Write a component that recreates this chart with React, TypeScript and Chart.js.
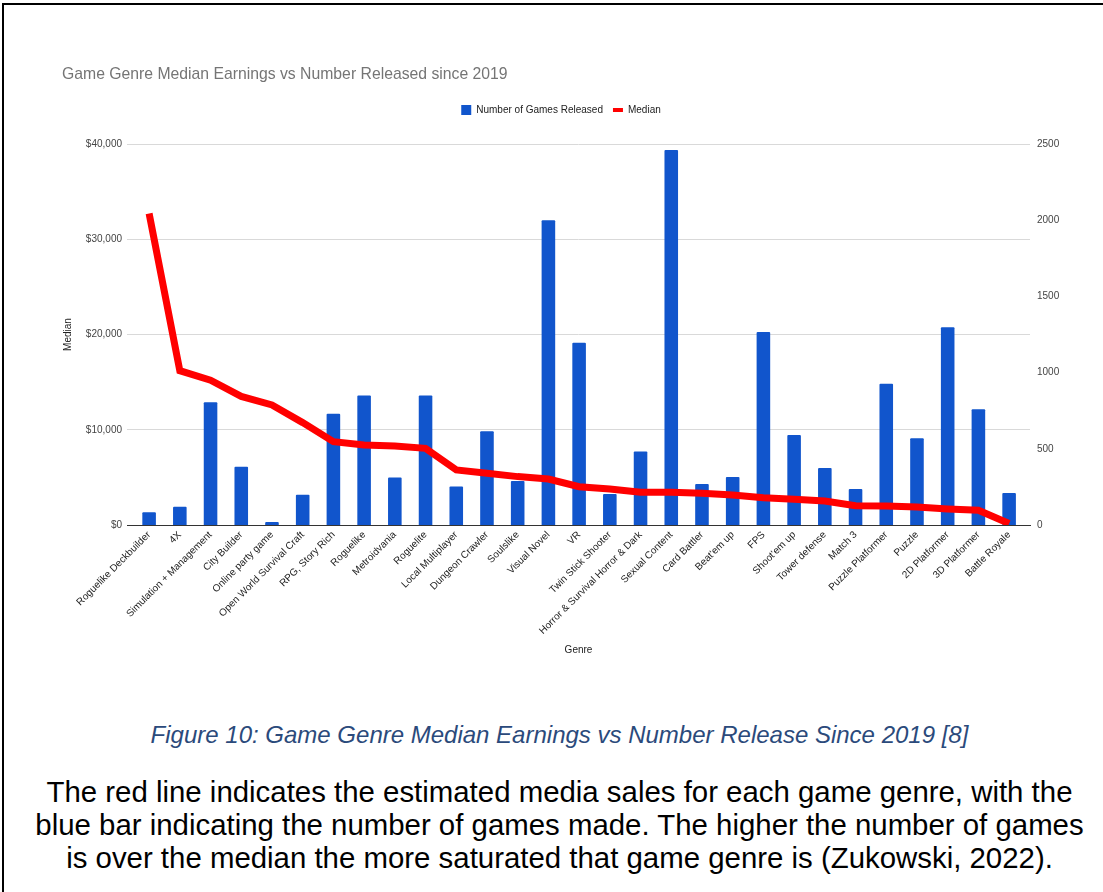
import React, { useEffect, useRef } from "react";
import { Chart, registerables } from "chart.js";

Chart.register(...registerables);

const FONT = "Arial, 'Liberation Sans', sans-serif";

const chartTitle = "Game Genre Median Earnings vs Number Released since 2019";
const seriesNames = ["Number of Games Released", "Median"];

const genres = [
  "Roguelike Deckbuilder",
  "4X",
  "Simulation + Management",
  "City Builder",
  "Online party game",
  "Open World Survival Craft",
  "RPG, Story Rich",
  "Roguelike",
  "Metroidvania",
  "Roguelite",
  "Local Multiplayer",
  "Dungeon Crawler",
  "Soulslike",
  "Visual Novel",
  "VR",
  "Twin Stick Shooter",
  "Horror & Survival Horror & Dark",
  "Sexual Content",
  "Card Battler",
  "Beat'em up",
  "FPS",
  "Shoot'em up",
  "Tower defense",
  "Match 3",
  "Puzzle Platformer",
  "Puzzle",
  "2D Platformer",
  "3D Platformer",
  "Battle Royale",
];

const gamesReleased = [
  83, 120, 805, 383, 20, 199, 730, 849, 311, 849, 252, 615, 289, 2000, 1196,
  203, 483, 2461, 269, 315, 1267, 591, 374, 236, 927, 569, 1297, 759, 210,
];

const medianEarnings = [
  32700, 16200, 15200, 13500, 12600, 10750, 8750, 8400, 8300, 8050, 5780, 5430,
  5080, 4830, 4020, 3780, 3430, 3430, 3330, 3150, 2870, 2700, 2520, 2030, 2000,
  1890, 1680, 1540, 150,
];

const leftTicks = { min: 0, max: 40000, step: 10000 };
const rightTicks = { min: 0, max: 2500, step: 500 };
// category axis drawn as a numeric index axis with a little extra room at both ends
const xRange = { min: -0.72, max: 28.68 };

const captionText =
  "Figure 10: Game Genre Median Earnings vs Number Release Since 2019 [8]";
const paragraphLines = [
  "The red line indicates the estimated media sales for each game genre, with the",
  "blue bar indicating the number of games made. The higher the number of games",
  "is over the median the more saturated that game genre is (Zukowski, 2022).",
];

const BLUE = "#1155cc";
const RED = "#ff0000";

const legendSpacer = {
  id: "legendSpacer",
  beforeInit(chart: any) {
    const leg = chart.legend;
    if (!leg) return;
    const orig = leg.fit;
    leg.fit = function () {
      orig.call(this);
      this.height += 19;
    };
  },
};

export default function App() {
  const canvasRef = useRef<HTMLCanvasElement | null>(null);

  useEffect(() => {
    document.body.style.overflow = "hidden";
    if (!canvasRef.current) return;
    Chart.defaults.font.family = FONT;
    const barPoints = gamesReleased.map((v, i) => ({ x: i, y: v }));
    const linePoints = medianEarnings.map((v, i) => ({ x: i, y: v }));
    const chart = new Chart(canvasRef.current, {
      type: "bar",
      data: {
        datasets: [
          {
            type: "bar",
            label: seriesNames[0],
            data: barPoints,
            backgroundColor: BLUE,
            borderWidth: 0,
            borderRadius: 1,
            yAxisID: "y1",
            barPercentage: 0.65,
            categoryPercentage: 1,
            order: 2,
          } as any,
          {
            type: "line",
            label: seriesNames[1],
            data: linePoints,
            borderColor: RED,
            backgroundColor: RED,
            borderWidth: 7,
            pointRadius: 0,
            tension: 0,
            fill: false,
            yAxisID: "y",
            order: 1,
          } as any,
        ],
      },
      options: {
        responsive: false,
        animation: false,
        events: [],
        layout: { padding: { left: 62, right: 43, top: 0, bottom: 0 } },
        plugins: {
          title: {
            display: true,
            text: chartTitle,
            align: "start",
            color: "#757575",
            font: { size: 15.75, weight: "normal" as any, family: FONT },
            padding: { top: 65.4, bottom: 10.7 },
          },
          legend: {
            display: true,
            position: "top",
            align: "center",
            labels: {
              usePointStyle: true,
              pointStyleWidth: 10,
              boxHeight: 10,
              padding: 10,
              color: "#222",
              font: { size: 10, family: FONT },
              sort: (a: any, b: any) => a.datasetIndex - b.datasetIndex,
              generateLabels: (chart: any) => {
                const items = (Chart.defaults.plugins.legend.labels as any).generateLabels(chart);
                items.forEach((it: any) => {
                  if (it.datasetIndex === 1) {
                    it.pointStyle = "line";
                    it.lineWidth = 4;
                    it.strokeStyle = RED;
                    it.fillStyle = RED;
                  } else {
                    it.pointStyle = "rect";
                    it.lineWidth = 0;
                    it.fillStyle = BLUE;
                    it.strokeStyle = BLUE;
                  }
                });
                return items;
              },
            },
          },
          tooltip: { enabled: false },
        },
        scales: {
          x: {
            type: "linear",
            min: xRange.min,
            max: xRange.max,
            offset: false,
            bounds: "ticks",
            grid: { display: false, drawTicks: false, offset: false },
            border: { display: true, color: "#333", width: 1 },
            ticks: {
              stepSize: 1,
              includeBounds: true,
              autoSkip: false,
              maxRotation: 45,
              minRotation: 45,
              padding: 4,
              color: "#222",
              font: { size: 10, family: FONT },
              callback: (v: any) =>
                Number.isInteger(v) && genres[v] !== undefined ? genres[v] : "",
            },
            title: {
              display: true,
              text: "Genre",
              color: "#222",
              font: { size: 10, family: FONT },
              padding: { top: 0, bottom: 14 },
            },
            afterFit: (s: any) => {
              s.height = 145;
            },
          } as any,
          y: {
            position: "left",
            min: leftTicks.min,
            max: leftTicks.max,
            ticks: {
              stepSize: leftTicks.step,
              padding: 5,
              color: "#444",
              font: { size: 10, family: FONT },
              callback: (v: any) => "$" + Number(v).toLocaleString("en-US"),
            },
            grid: { color: "#d9d9d9", drawTicks: false },
            border: { display: false },
            title: {
              display: true,
              text: "Median",
              color: "#222",
              font: { size: 10, family: FONT },
              padding: { top: 0, bottom: 0 },
            },
            afterFit: (s: any) => {
              s.width = 65;
            },
          },
          y1: {
            position: "right",
            min: rightTicks.min,
            max: rightTicks.max,
            ticks: {
              stepSize: rightTicks.step,
              padding: 7,
              color: "#444",
              font: { size: 10, family: FONT },
              callback: (v: any) => String(v),
            },
            grid: { display: false, drawTicks: false },
            border: { display: false },
            afterFit: (s: any) => {
              s.width = 30;
            },
          },
        },
      },
      plugins: [legendSpacer],
    });
    return () => chart.destroy();
  }, []);

  return (
    <div
      style={{
        position: "absolute",
        left: 0,
        top: 0,
        width: 1103,
        height: 892,
        overflow: "hidden",
        background: "#fff",
        fontFamily: FONT,
      }}
    >
      <div
        style={{
          position: "absolute",
          left: 2,
          top: 3,
          width: 1200,
          height: 1000,
          borderTop: "2px solid #000",
          borderLeft: "2px solid #000",
          boxSizing: "border-box",
        }}
      />
      <canvas
        ref={canvasRef}
        width={1103}
        height={670}
        style={{ position: "absolute", left: 0, top: 0, width: 1103, height: 670 }}
      />
      <div
        style={{
          position: "absolute",
          left: 16,
          right: 0,
          top: 721,
          height: 28,
          lineHeight: "28px",
          fontSize: 24,
          fontStyle: "italic",
          color: "#2b4a7b",
          textAlign: "center",
          whiteSpace: "nowrap",
        }}
      >
        {captionText}
      </div>
      <div
        style={{
          position: "absolute",
          left: 16,
          right: 0,
          top: 775,
          lineHeight: "33px",
          fontSize: 29.4,
          color: "#000",
          textAlign: "center",
          whiteSpace: "nowrap",
        }}
      >
        {paragraphLines.map((l, i) => (
          <div key={i}>{l}</div>
        ))}
      </div>
    </div>
  );
}
